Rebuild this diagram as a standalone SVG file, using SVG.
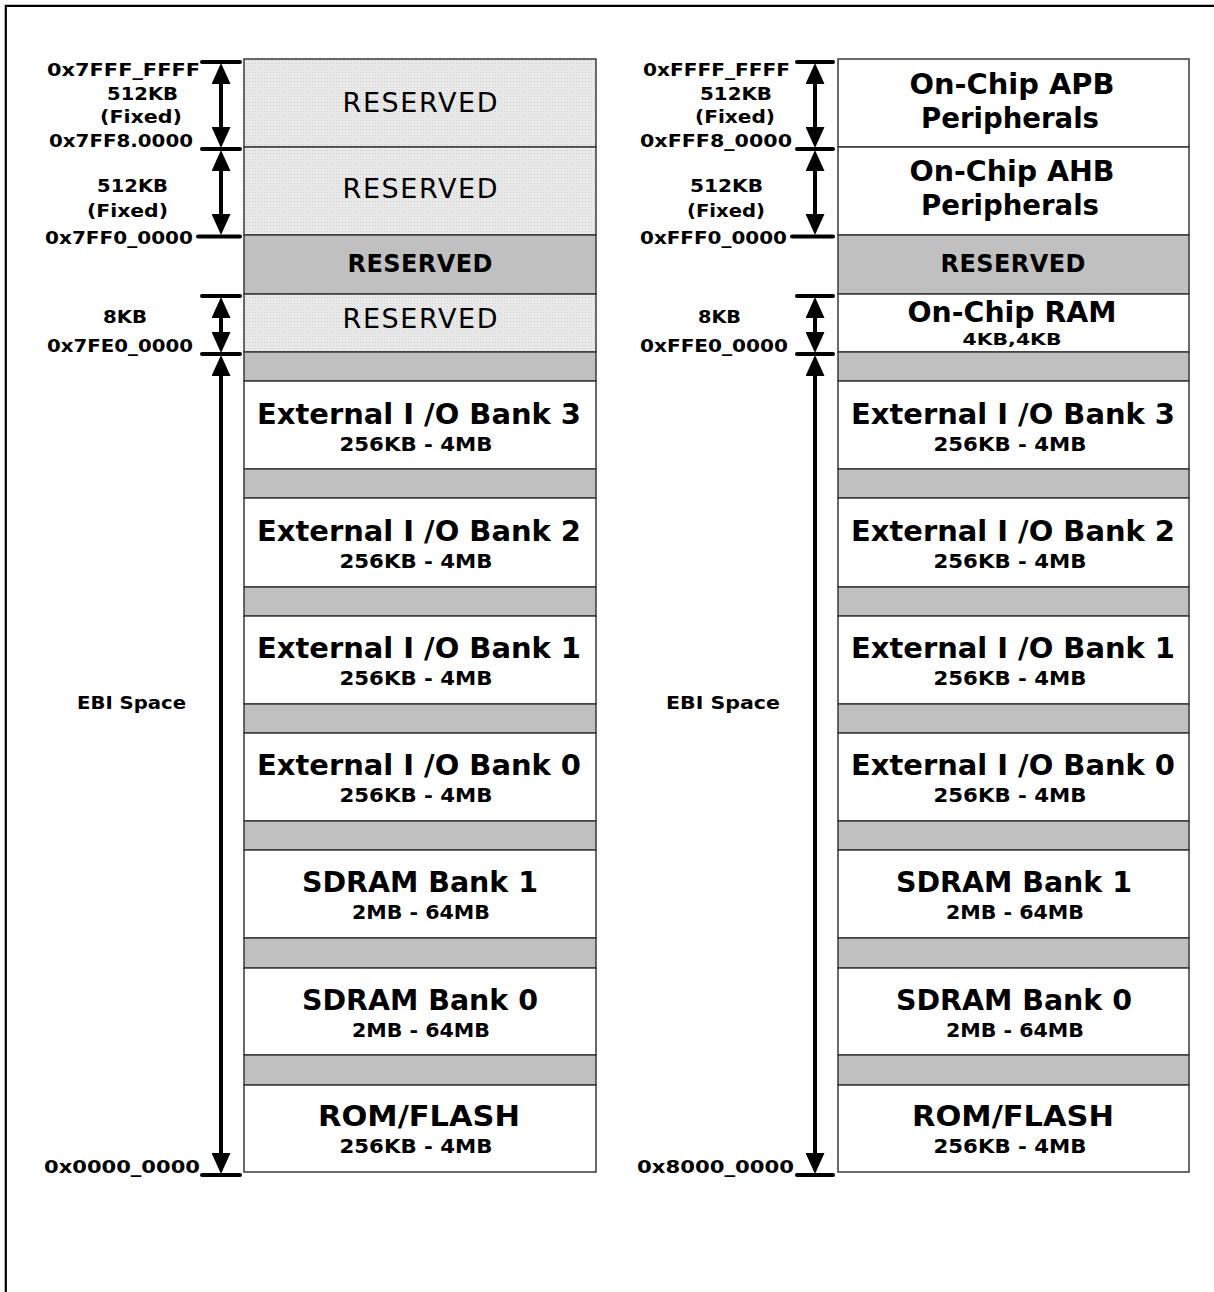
<svg xmlns="http://www.w3.org/2000/svg" width="1214" height="1292" viewBox="0 0 1214 1292">
<style>
.bx{stroke:#3a3a3a;stroke-width:1.5}
.w{fill:#ffffff}
.g{fill:#c0c0c0}
.h{fill:url(#dots)}
.t{font-family:"DejaVu Sans","Liberation Sans",sans-serif;font-weight:bold;font-size:29px;fill:#000;text-anchor:middle}
.p{font-family:"DejaVu Sans","Liberation Sans",sans-serif;font-weight:bold;font-size:28px;fill:#000;text-anchor:middle}
.s{font-family:"DejaVu Sans","Liberation Sans",sans-serif;font-weight:bold;font-size:19px;fill:#000;text-anchor:middle}
.r{font-family:"DejaVu Sans","Liberation Sans",sans-serif;font-size:27px;fill:#000;text-anchor:middle}
.rb{font-family:"DejaVu Sans","Liberation Sans",sans-serif;font-weight:bold;font-size:24px;fill:#000;text-anchor:middle}
.l{font-family:"DejaVu Sans","Liberation Sans",sans-serif;font-weight:bold;font-size:17.5px;fill:#000;text-anchor:middle}
.le{font-family:"DejaVu Sans","Liberation Sans",sans-serif;font-weight:bold;font-size:17.5px;fill:#000;text-anchor:end}
.tick{stroke:#000;stroke-width:4;stroke-linecap:round}
.arr{stroke:#000;stroke-width:4;fill:none;marker-start:url(#ah);marker-end:url(#ah)}
.frame{stroke:#000;stroke-width:2.2;fill:none}
</style>
<defs>
<pattern id="dots" width="3" height="3" patternUnits="userSpaceOnUse">
<rect width="3" height="3" fill="#ededed"/>
<rect width="1" height="1" fill="#c6c6c6"/>
<rect x="1.5" y="1.5" width="1" height="1" fill="#d4d4d4"/>
</pattern>
<marker id="ah" viewBox="0 0 21 19" refX="10" refY="9.5" markerWidth="21" markerHeight="19" markerUnits="userSpaceOnUse" orient="auto-start-reverse">
<path d="M0,0 L21,9.5 L0,19 Z" fill="#000"/>
</marker>
</defs>

<path class="frame" d="M5.8,1292 L5.8,5.8 L1214,5.8"/>

<!-- LEFT COLUMN -->
<g id="left-reserved-1"><rect class="bx h" x="244" y="59" width="352" height="88"/><text class="r" x="420" y="112" textLength="155" lengthAdjust="spacing">RESERVED</text></g>
<g id="left-reserved-2"><rect class="bx h" x="244" y="147" width="352" height="88"/><text class="r" x="420" y="198" textLength="155" lengthAdjust="spacing">RESERVED</text></g>
<g id="left-reserved-3"><rect class="bx g" x="244" y="235" width="352" height="59"/><text class="rb" x="420" y="272" textLength="145" lengthAdjust="spacing">RESERVED</text></g>
<g id="left-reserved-4"><rect class="bx h" x="244" y="294" width="352" height="58"/><text class="r" x="420" y="328" textLength="155" lengthAdjust="spacing">RESERVED</text></g>
<g id="left-gap-1"><rect class="bx g" x="244" y="352" width="352" height="29"/></g>
<g id="left-io3"><rect class="bx w" x="244" y="381" width="352" height="88"/><text class="t" x="419" y="424" textLength="324" lengthAdjust="spacingAndGlyphs">External I /O Bank 3</text><text class="s" x="416" y="451" textLength="153" lengthAdjust="spacingAndGlyphs">256KB - 4MB</text></g>
<g id="left-gap-2"><rect class="bx g" x="244" y="469" width="352" height="29"/></g>
<g id="left-io2"><rect class="bx w" x="244" y="498" width="352" height="89"/><text class="t" x="419" y="541" textLength="324" lengthAdjust="spacingAndGlyphs">External I /O Bank 2</text><text class="s" x="416" y="568" textLength="153" lengthAdjust="spacingAndGlyphs">256KB - 4MB</text></g>
<g id="left-gap-3"><rect class="bx g" x="244" y="587" width="352" height="29"/></g>
<g id="left-io1"><rect class="bx w" x="244" y="616" width="352" height="88"/><text class="t" x="419" y="658" textLength="324" lengthAdjust="spacingAndGlyphs">External I /O Bank 1</text><text class="s" x="416" y="685" textLength="153" lengthAdjust="spacingAndGlyphs">256KB - 4MB</text></g>
<g id="left-gap-4"><rect class="bx g" x="244" y="704" width="352" height="29"/></g>
<g id="left-io0"><rect class="bx w" x="244" y="733" width="352" height="88"/><text class="t" x="419" y="775" textLength="324" lengthAdjust="spacingAndGlyphs">External I /O Bank 0</text><text class="s" x="416" y="802" textLength="153" lengthAdjust="spacingAndGlyphs">256KB - 4MB</text></g>
<g id="left-gap-5"><rect class="bx g" x="244" y="821" width="352" height="29"/></g>
<g id="left-sdram1"><rect class="bx w" x="244" y="850" width="352" height="88"/><text class="t" x="420" y="892" textLength="236" lengthAdjust="spacingAndGlyphs">SDRAM Bank 1</text><text class="s" x="421" y="919" textLength="138" lengthAdjust="spacingAndGlyphs">2MB - 64MB</text></g>
<g id="left-gap-6"><rect class="bx g" x="244" y="938" width="352" height="30"/></g>
<g id="left-sdram0"><rect class="bx w" x="244" y="968" width="352" height="87"/><text class="t" x="420" y="1010" textLength="236" lengthAdjust="spacingAndGlyphs">SDRAM Bank 0</text><text class="s" x="421" y="1037" textLength="138" lengthAdjust="spacingAndGlyphs">2MB - 64MB</text></g>
<g id="left-gap-7"><rect class="bx g" x="244" y="1055" width="352" height="30"/></g>
<g id="left-rom"><rect class="bx w" x="244" y="1085" width="352" height="87"/><text class="t" x="419" y="1126" textLength="202" lengthAdjust="spacingAndGlyphs">ROM/FLASH</text><text class="s" x="416" y="1153" textLength="153" lengthAdjust="spacingAndGlyphs">256KB - 4MB</text></g>

<!-- RIGHT COLUMN -->
<g id="right-apb"><rect class="bx w" x="838" y="59" width="351" height="88"/><text class="p" x="1012" y="94" textLength="205" lengthAdjust="spacingAndGlyphs">On-Chip APB</text><text class="p" x="1010" y="128" textLength="178" lengthAdjust="spacingAndGlyphs">Peripherals</text></g>
<g id="right-ahb"><rect class="bx w" x="838" y="147" width="351" height="88"/><text class="p" x="1012" y="181" textLength="205" lengthAdjust="spacingAndGlyphs">On-Chip AHB</text><text class="p" x="1010" y="215" textLength="178" lengthAdjust="spacingAndGlyphs">Peripherals</text></g>
<g id="right-reserved"><rect class="bx g" x="838" y="235" width="351" height="59"/><text class="rb" x="1013" y="272" textLength="145" lengthAdjust="spacing">RESERVED</text></g>
<g id="right-ram"><rect class="bx w" x="838" y="294" width="351" height="58"/><text class="t" x="1012" y="322" textLength="209" lengthAdjust="spacingAndGlyphs">On-Chip RAM</text><text class="s" x="1012" y="345" style="font-size:15px" textLength="99" lengthAdjust="spacingAndGlyphs">4KB,4KB</text></g>
<g id="right-gap-1"><rect class="bx g" x="838" y="352" width="351" height="29"/></g>
<g id="right-io3"><rect class="bx w" x="838" y="381" width="351" height="88"/><text class="t" x="1013" y="424" textLength="324" lengthAdjust="spacingAndGlyphs">External I /O Bank 3</text><text class="s" x="1010" y="451" textLength="153" lengthAdjust="spacingAndGlyphs">256KB - 4MB</text></g>
<g id="right-gap-2"><rect class="bx g" x="838" y="469" width="351" height="29"/></g>
<g id="right-io2"><rect class="bx w" x="838" y="498" width="351" height="89"/><text class="t" x="1013" y="541" textLength="324" lengthAdjust="spacingAndGlyphs">External I /O Bank 2</text><text class="s" x="1010" y="568" textLength="153" lengthAdjust="spacingAndGlyphs">256KB - 4MB</text></g>
<g id="right-gap-3"><rect class="bx g" x="838" y="587" width="351" height="29"/></g>
<g id="right-io1"><rect class="bx w" x="838" y="616" width="351" height="88"/><text class="t" x="1013" y="658" textLength="324" lengthAdjust="spacingAndGlyphs">External I /O Bank 1</text><text class="s" x="1010" y="685" textLength="153" lengthAdjust="spacingAndGlyphs">256KB - 4MB</text></g>
<g id="right-gap-4"><rect class="bx g" x="838" y="704" width="351" height="29"/></g>
<g id="right-io0"><rect class="bx w" x="838" y="733" width="351" height="88"/><text class="t" x="1013" y="775" textLength="324" lengthAdjust="spacingAndGlyphs">External I /O Bank 0</text><text class="s" x="1010" y="802" textLength="153" lengthAdjust="spacingAndGlyphs">256KB - 4MB</text></g>
<g id="right-gap-5"><rect class="bx g" x="838" y="821" width="351" height="29"/></g>
<g id="right-sdram1"><rect class="bx w" x="838" y="850" width="351" height="88"/><text class="t" x="1014" y="892" textLength="236" lengthAdjust="spacingAndGlyphs">SDRAM Bank 1</text><text class="s" x="1015" y="919" textLength="138" lengthAdjust="spacingAndGlyphs">2MB - 64MB</text></g>
<g id="right-gap-6"><rect class="bx g" x="838" y="938" width="351" height="30"/></g>
<g id="right-sdram0"><rect class="bx w" x="838" y="968" width="351" height="87"/><text class="t" x="1014" y="1010" textLength="236" lengthAdjust="spacingAndGlyphs">SDRAM Bank 0</text><text class="s" x="1015" y="1037" textLength="138" lengthAdjust="spacingAndGlyphs">2MB - 64MB</text></g>
<g id="right-gap-7"><rect class="bx g" x="838" y="1055" width="351" height="30"/></g>
<g id="right-rom"><rect class="bx w" x="838" y="1085" width="351" height="87"/><text class="t" x="1013" y="1126" textLength="202" lengthAdjust="spacingAndGlyphs">ROM/FLASH</text><text class="s" x="1010" y="1153" textLength="153" lengthAdjust="spacingAndGlyphs">256KB - 4MB</text></g>

<!-- LABELS -->
<g id="left-labels">
<text class="le" x="200" y="76" textLength="153" lengthAdjust="spacingAndGlyphs">0x7FFF_FFFF</text>
<text class="l" x="142.5" y="100" textLength="71" lengthAdjust="spacingAndGlyphs">512KB</text>
<text class="l" x="141" y="123" textLength="82" lengthAdjust="spacingAndGlyphs">(Fixed)</text>
<text class="le" x="193" y="147" textLength="144" lengthAdjust="spacingAndGlyphs">0x7FF8.0000</text>
<text class="l" x="132.5" y="192" textLength="71" lengthAdjust="spacingAndGlyphs">512KB</text>
<text class="l" x="127.5" y="217" textLength="81" lengthAdjust="spacingAndGlyphs">(Fixed)</text>
<text class="le" x="193" y="244" textLength="148" lengthAdjust="spacingAndGlyphs">0x7FF0_0000</text>
<text class="l" x="125" y="323" textLength="44" lengthAdjust="spacingAndGlyphs">8KB</text>
<text class="le" x="193" y="352" textLength="146" lengthAdjust="spacingAndGlyphs">0x7FE0_0000</text>
<text class="l" x="131.5" y="709" textLength="109" lengthAdjust="spacingAndGlyphs">EBI Space</text>
<text class="le" x="200" y="1173" textLength="156" lengthAdjust="spacingAndGlyphs">0x0000_0000</text>
</g>
<g id="right-labels">
<text class="le" x="790" y="76" textLength="147" lengthAdjust="spacingAndGlyphs">0xFFFF_FFFF</text>
<text class="l" x="736" y="100" textLength="72" lengthAdjust="spacingAndGlyphs">512KB</text>
<text class="l" x="735" y="123" textLength="80" lengthAdjust="spacingAndGlyphs">(Fixed)</text>
<text class="le" x="792" y="147" textLength="152" lengthAdjust="spacingAndGlyphs">0xFFF8_0000</text>
<text class="l" x="726.5" y="192" textLength="73" lengthAdjust="spacingAndGlyphs">512KB</text>
<text class="l" x="726" y="217" textLength="78" lengthAdjust="spacingAndGlyphs">(Fixed)</text>
<text class="le" x="787" y="244" textLength="147" lengthAdjust="spacingAndGlyphs">0xFFF0_0000</text>
<text class="l" x="719.5" y="323" textLength="43" lengthAdjust="spacingAndGlyphs">8KB</text>
<text class="le" x="788" y="352" textLength="148" lengthAdjust="spacingAndGlyphs">0xFFE0_0000</text>
<text class="l" x="723" y="709" textLength="114" lengthAdjust="spacingAndGlyphs">EBI Space</text>
<text class="le" x="794" y="1173" textLength="157" lengthAdjust="spacingAndGlyphs">0x8000_0000</text>
</g>

<!-- CONNECTORS -->
<g id="connectors">
<line class="tick" x1="202" y1="62" x2="240" y2="62"/>
<line class="tick" x1="202" y1="149" x2="240" y2="149"/>
<line class="tick" x1="198" y1="236.5" x2="240" y2="236.5"/>
<line class="tick" x1="202" y1="296" x2="240" y2="296"/>
<line class="tick" x1="202" y1="354" x2="240" y2="354"/>
<line class="tick" x1="202" y1="1175" x2="240" y2="1175"/>
<line class="arr" x1="221" y1="74" x2="221" y2="137"/>
<line class="arr" x1="221" y1="161" x2="221" y2="224"/>
<line class="arr" x1="221" y1="308" x2="221" y2="342"/>
<line class="arr" x1="221" y1="366" x2="221" y2="1163"/>
<line class="tick" x1="797" y1="62" x2="833" y2="62"/>
<line class="tick" x1="797" y1="149" x2="833" y2="149"/>
<line class="tick" x1="792" y1="236.5" x2="833" y2="236.5"/>
<line class="tick" x1="797" y1="296" x2="833" y2="296"/>
<line class="tick" x1="797" y1="354" x2="833" y2="354"/>
<line class="tick" x1="797" y1="1175" x2="833" y2="1175"/>
<line class="arr" x1="815" y1="74" x2="815" y2="137"/>
<line class="arr" x1="815" y1="161" x2="815" y2="224"/>
<line class="arr" x1="815" y1="308" x2="815" y2="342"/>
<line class="arr" x1="815" y1="366" x2="815" y2="1163"/>
</g>
</svg>
